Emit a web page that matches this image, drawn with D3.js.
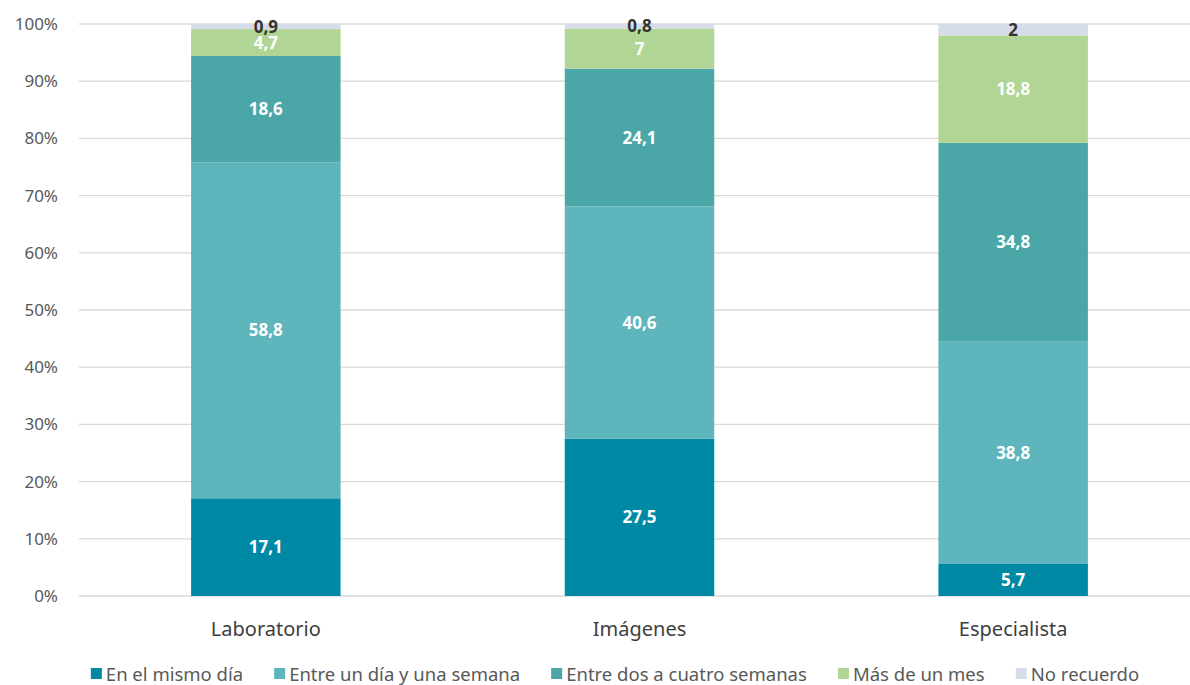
<!DOCTYPE html>
<html>
<head>
<meta charset="utf-8">
<script src="https://cdn.jsdelivr.net/npm/d3@7"></script>
<style>
  body { margin: 0; background: #fff; }
  svg { font-family: "Noto Sans", "Open Sans", sans-serif; }
</style>
</head>
<body>
<svg id="chart" width="1190" height="685"></svg>
<script>
// data
const categories = ["Laboratorio", "Imágenes", "Especialista"];
const seriesNames = ["En el mismo día", "Entre un día y una semana", "Entre dos a cuatro semanas", "Más de un mes", "No recuerdo"];
const mismoDia = [17.1, 27.5, 5.7];
const unaSemana = [58.8, 40.6, 38.8];
const cuatroSemanas = [18.6, 24.1, 34.8];
const masMes = [4.7, 7, 18.8];
const noRecuerdo = [0.9, 0.8, 2];
const yTicks = [0, 10, 20, 30, 40, 50, 60, 70, 80, 90, 100];

const colors = ["#0089a5", "#5fb5bc", "#4ba7a7", "#b0d595", "#d6dde8"];
const labelColors = ["#fff", "#fff", "#fff", "#fff", "#333"];

const allSeries = [mismoDia, unaSemana, cuatroSemanas, masMes, noRecuerdo];

const svg = d3.select("#chart");
const margin = { left: 79, right: -10, top: 24, bottom: 89 };
const width = 1190 - margin.left - margin.right;
const height = 685 - margin.top - margin.bottom;

const g = svg.append("g").attr("transform", `translate(${margin.left},${margin.top})`);

const x = d3.scaleBand().domain(categories).range([0, width]).paddingInner(0.6).paddingOuter(0.3);
const y = d3.scaleLinear().domain([0, 100]).range([height, 0]);

// gridlines
g.selectAll("line.grid")
  .data(yTicks)
  .enter()
  .append("line")
  .attr("class", "grid")
  .attr("x1", 0).attr("x2", width)
  .attr("y1", d => y(d)).attr("y2", d => y(d))
  .attr("stroke", "#d9d9d9")
  .attr("stroke-width", 1.3);

// y tick labels
g.selectAll("text.ytick")
  .data(yTicks)
  .enter()
  .append("text")
  .attr("class", "ytick")
  .attr("x", -21)
  .attr("y", d => y(d))
  .attr("dy", "0.35em")
  .attr("text-anchor", "end")
  .attr("font-size", 17)
  .attr("fill", "#595959")
  .text(d => d + "%");

// stack (normalised, 100% stacked)
const rows = categories.map((c, i) => {
  const r = { cat: c };
  const total = d3.sum(allSeries, s => s[i]);
  seriesNames.forEach((n, k) => { r[n] = allSeries[k][i] / total * 100; r[n + "_raw"] = allSeries[k][i]; });
  return r;
});
const stacked = d3.stack().keys(seriesNames)(rows);

stacked.forEach((layer, k) => {
  const lg = g.append("g");
  lg.selectAll("rect")
    .data(layer)
    .enter()
    .append("rect")
    .attr("x", d => x(d.data.cat))
    .attr("width", x.bandwidth())
    .attr("y", d => y(d[1]))
    .attr("height", d => y(d[0]) - y(d[1]))
    .attr("fill", colors[k]);

  lg.selectAll("text")
    .data(layer)
    .enter()
    .append("text")
    .attr("x", d => x(d.data.cat) + x.bandwidth() / 2)
    .attr("y", d => (y(d[0]) + y(d[1])) / 2)
    .attr("dy", "0.36em")
    .attr("text-anchor", "middle")
    .attr("font-size", 17)
    .attr("font-weight", "bold")
    .attr("fill", labelColors[k])
    .text(d => String(d.data[layer.key + "_raw"]).replace(".", ","));
});

// category labels
g.selectAll("text.cat")
  .data(categories)
  .enter()
  .append("text")
  .attr("class", "cat")
  .attr("x", d => x(d) + x.bandwidth() / 2)
  .attr("y", height + 40)
  .attr("text-anchor", "middle")
  .attr("font-size", 20)
  .attr("fill", "#404040")
  .text(d => d);

// legend
const legend = svg.append("g");
const items = legend.selectAll("g")
  .data(seriesNames)
  .enter()
  .append("g");
items.append("rect")
  .attr("width", 11).attr("height", 11)
  .attr("y", -6)
  .attr("fill", (d, i) => colors[i]);
items.append("text")
  .attr("x", 15)
  .attr("dy", "0.36em")
  .attr("font-size", 18.5)
  .attr("fill", "#595959")
  .text(d => d);

let offset = 0;
const positions = [];
items.each(function () {
  const w = this.getBBox().width;
  positions.push(offset);
  offset += w + 31;
});
const totalW = offset - 31;
const startX = 615 - totalW / 2;
items.attr("transform", (d, i) => `translate(${startX + positions[i]},674)`);
</script>
</body>
</html>
